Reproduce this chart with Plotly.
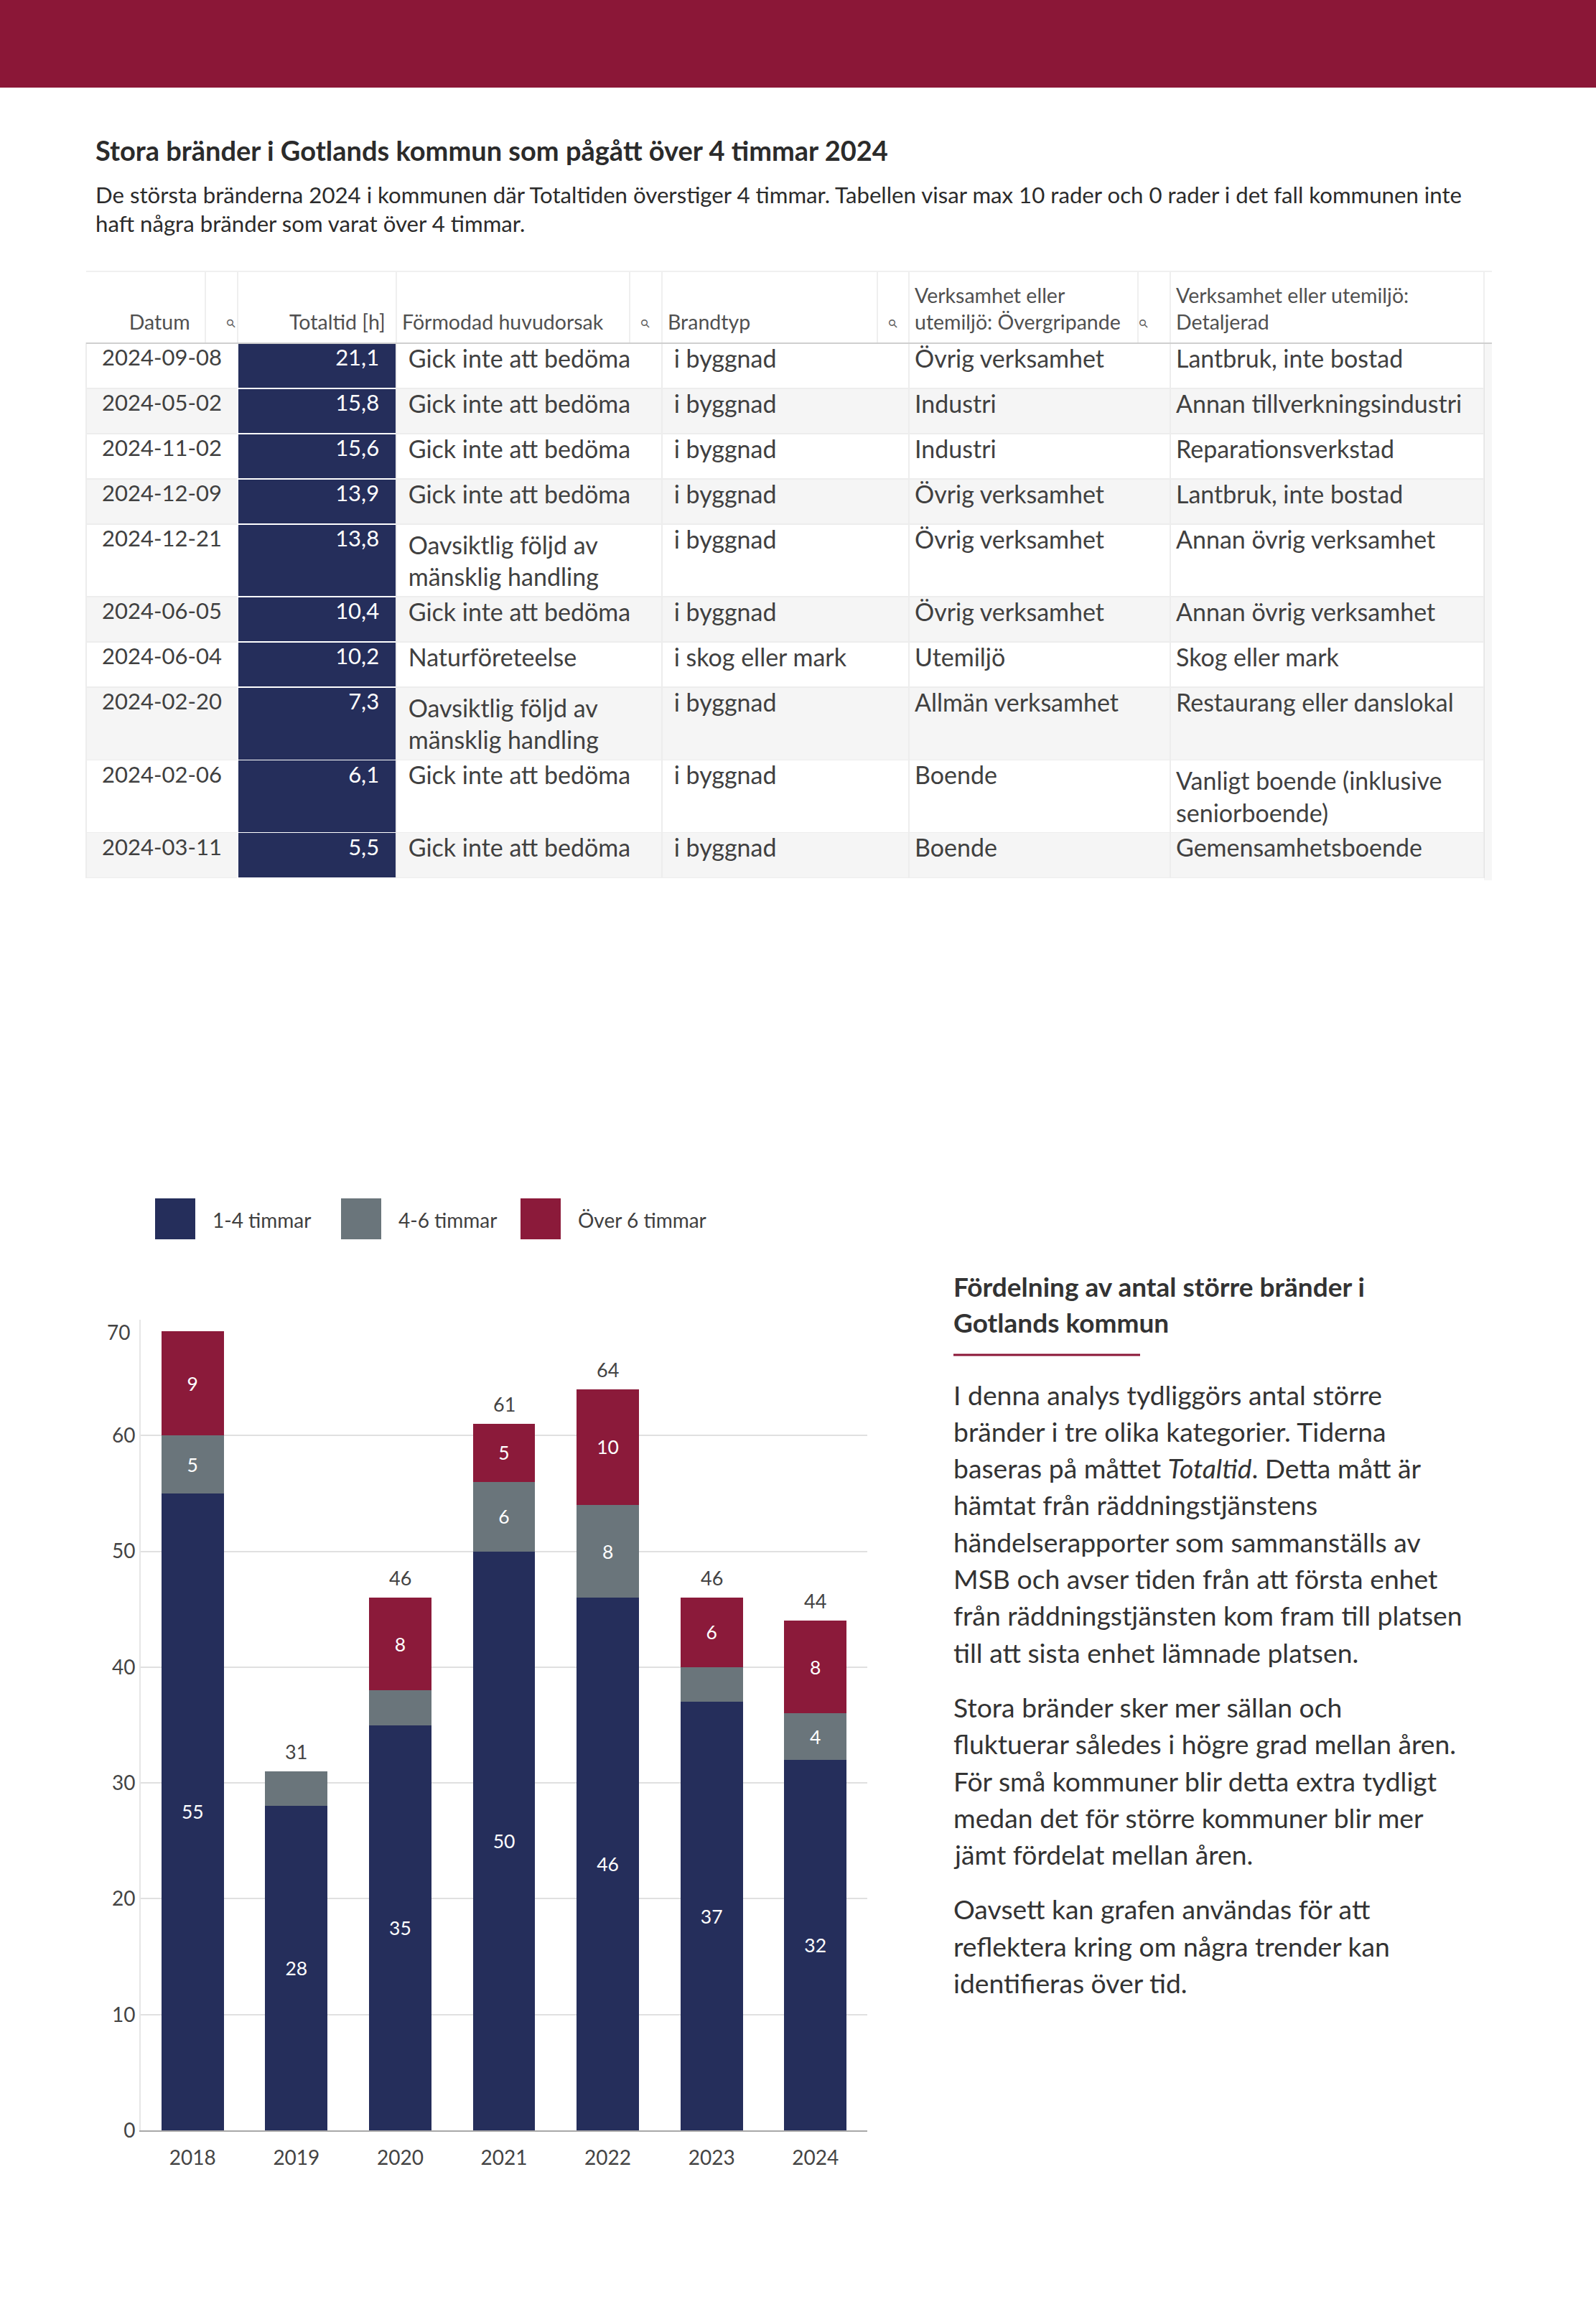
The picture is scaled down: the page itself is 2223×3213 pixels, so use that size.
import textwrap
import plotly.graph_objects as go

W, H = 2223, 3213
FONT = "Lato"
TXT = "#404040"
NAVY = "#252E5B"
GRAY = "#6A757B"
RED = "#8B1A3A"
BANNER = "#8B1737"
NB = "\u00a0"

# ---------------- data ----------------
title = "Stora bränder i Gotlands kommun som pågått över 4 timmar 2024"
subtitle_lines = [
    "De största bränderna 2024 i kommunen där Totaltiden överstiger 4 timmar. Tabellen visar max 10 rader och 0 rader i det fall kommunen inte",
    "haft några bränder som varat över 4 timmar.",
]

col_headers = ["Datum", "Totaltid [h]", "Förmodad huvudorsak", "Brandtyp",
               "Verksamhet eller utemiljö: Övergripande",
               "Verksamhet eller utemiljö: Detaljerad"]
datum = ["2024-09-08", "2024-05-02", "2024-11-02", "2024-12-09", "2024-12-21",
         "2024-06-05", "2024-06-04", "2024-02-20", "2024-02-06", "2024-03-11"]
totaltid = [21.1, 15.8, 15.6, 13.9, 13.8, 10.4, 10.2, 7.3, 6.1, 5.5]
orsak = ["Gick inte att bedöma", "Gick inte att bedöma", "Gick inte att bedöma",
         "Gick inte att bedöma", "Oavsiktlig följd av mänsklig handling",
         "Gick inte att bedöma", "Naturföreteelse",
         "Oavsiktlig följd av mänsklig handling", "Gick inte att bedöma",
         "Gick inte att bedöma"]
brandtyp = ["i byggnad", "i byggnad", "i byggnad", "i byggnad", "i byggnad",
            "i byggnad", "i skog eller mark", "i byggnad", "i byggnad", "i byggnad"]
overgripande = ["Övrig verksamhet", "Industri", "Industri", "Övrig verksamhet",
                "Övrig verksamhet", "Övrig verksamhet", "Utemiljö",
                "Allmän verksamhet", "Boende", "Boende"]
detaljerad = ["Lantbruk, inte bostad", "Annan tillverkningsindustri",
              "Reparationsverkstad", "Lantbruk, inte bostad",
              "Annan övrig verksamhet", "Annan övrig verksamhet",
              "Skog eller mark", "Restaurang eller danslokal",
              "Vanligt boende (inklusive seniorboende)", "Gemensamhetsboende"]

years = ["2018", "2019", "2020", "2021", "2022", "2023", "2024"]
series_names = ["1-4 timmar", "4-6 timmar", "Över 6 timmar"]
v_1_4 = [55, 28, 35, 50, 46, 37, 32]
v_4_6 = [5, 3, 3, 6, 8, 3, 4]
v_over6 = [9, 0, 8, 5, 10, 6, 8]

side_heading = ["Fördelning av antal större bränder i", "Gotlands kommun"]
side_paragraphs = [
    ["I denna analys tydliggörs antal större",
     "bränder i tre olika kategorier. Tiderna",
     "baseras på måttet <i>Totaltid</i>. Detta mått är",
     "hämtat från räddningstjänstens",
     "händelserapporter som sammanställs av",
     "MSB och avser tiden från att första enhet",
     "från räddningstjänsten kom fram till platsen",
     "till att sista enhet lämnade platsen."],
    ["Stora bränder sker mer sällan och",
     "fluktuerar således i högre grad mellan åren.",
     "För små kommuner blir detta extra tydligt",
     "medan det för större kommuner blir mer",
     "jämt fördelat mellan åren."],
    ["Oavsett kan grafen användas för att",
     "reflektera kring om några trender kan",
     "identifieras över tid."],
]


# ---------------- helpers ----------------
def px(x):
    return x / W


def py(y):
    return 1 - y / H


def wrap(s, width, prefix=""):
    return "<br>".join(prefix + ln for ln in textwrap.wrap(s, width))


def header_text(s, width, pad_lines=2):
    lines = textwrap.wrap(s, width)
    lines = [NB] * (pad_lines - len(lines)) + lines
    return "<br>".join(lines)


fig = go.Figure()

# ---------------- table ----------------
n = len(datum)
stripe = ["#FFFFFF" if i % 2 == 0 else "#F5F5F5" for i in range(n)]
LINE = "#EDEDED"

hdr_widths = [20, 20, 20, 20, 22, 26]
hdr = [header_text(h, w) for h, w in zip(col_headers, hdr_widths)]
hdr[0] = hdr[0] + NB * 8
hdr[1] = hdr[1] + NB * 1

cells = [
    datum,
    [f"{v:.1f}".replace(".", ",") + NB * 2 for v in totaltid],
    [wrap(s, 20, NB) for s in orsak],
    [wrap(s, 30, NB) for s in brandtyp],
    [wrap(s, 30) for s in overgripande],
    [wrap(s, 28) for s in detaljerad],
]

fig.add_trace(go.Table(
    domain=dict(x=[px(120), px(2067)], y=[py(1280), py(386)]),
    columnwidth=[211, 221, 370, 344, 364, 437],
    header=dict(
        values=hdr,
        align=["right", "right", "left", "left", "left", "left"],
        fill_color="white",
        line=dict(color="white", width=1),
        font=dict(family=FONT, size=28.5, color="#505050"),
        height=92,
    ),
    cells=dict(
        values=cells,
        align=["center", "right", "left", "left", "left", "left"],
        fill_color=[stripe, [NAVY] * n, stripe, stripe, stripe, stripe],
        line=dict(color=[[LINE] * n, ["white"] * n, [LINE] * n, [LINE] * n,
                         [LINE] * n, [LINE] * n], width=1.5),
        font=dict(family=FONT, size=[31, 31, 34, 34, 34, 34],
                  color=[TXT, "white", TXT, TXT, TXT, TXT]),
        height=63,
    ),
))

# ---------------- stacked bars ----------------
def seg_label(v):
    return str(v) if v >= 4 else ""


for vals, name, col in zip([v_1_4, v_4_6, v_over6], series_names, [NAVY, GRAY, RED]):
    fig.add_trace(go.Bar(
        x=years, y=vals, name=name, marker=dict(color=col, line=dict(width=0)),
        text=[seg_label(v) for v in vals], textposition="inside",
        insidetextanchor="middle", textangle=0,
        textfont=dict(family=FONT, size=26.5, color="white"),
        showlegend=False, hoverinfo="skip",
    ))

Y_MAX = 70
Y_STEP = 10
tickvals = list(range(0, Y_MAX + 1, Y_STEP))
ticktext = [str(v) if v < Y_MAX else "" for v in tickvals]

totals = [a + b + c for a, b, c in zip(v_1_4, v_4_6, v_over6)]
annotations = []
for i, t in enumerate(totals):
    if t + 3 <= Y_MAX:
        annotations.append(dict(x=i, y=t, xref="x", yref="y", text=str(t),
                                showarrow=False, yanchor="bottom", yshift=9,
                                font=dict(family=FONT, size=27, color="#444444")))
# top tick label drawn slightly inside the plot (as in the original)
annotations.append(dict(xref="paper", yref="y", x=px(183), y=Y_MAX, yshift=-17,
                        text=str(Y_MAX), showarrow=False, xanchor="right", yanchor="middle",
                        font=dict(family=FONT, size=28, color="#444444")))

# ---------------- legend (custom) ----------------
shapes = []
LEG_X = [216, 475, 725]
for lx, name, col in zip(LEG_X, series_names, [NAVY, GRAY, RED]):
    shapes.append(dict(type="rect", xref="paper", yref="paper",
                       x0=px(lx), x1=px(lx + 56), y0=py(1726), y1=py(1669),
                       fillcolor=col, line=dict(width=0)))
    annotations.append(dict(xref="paper", yref="paper", x=px(lx + 78), y=py(1699),
                            text=name, showarrow=False, xanchor="left", yanchor="middle",
                            font=dict(family=FONT, size=28, color=TXT)))

# ---------------- banner, title ----------------
shapes.append(dict(type="rect", xref="paper", yref="paper", x0=0, x1=1,
                   y0=py(122), y1=1, fillcolor=BANNER, line=dict(width=0), layer="below"))
annotations.append(dict(xref="paper", yref="paper", x=px(131), y=py(209), text="<b>" + title + "</b>",
                        showarrow=False, xanchor="left", yanchor="middle",
                        font=dict(family=FONT, size=38, color="#2B2B2B")))
for i, ln in enumerate(subtitle_lines):
    annotations.append(dict(xref="paper", yref="paper", x=px(131), y=py(271 + 40 * i), text=ln,
                            showarrow=False, xanchor="left", yanchor="middle",
                            font=dict(family=FONT, size=31.2, color="#2B2B2B")))

# table header decorations: dividers and search icons
for xd in [286, 331, 552, 877, 922, 1222, 1266, 1585, 1630, 2067]:
    shapes.append(dict(type="line", xref="paper", yref="paper", x0=px(xd), x1=px(xd),
                       y0=py(478), y1=py(378), line=dict(color="#EAEAEA", width=1.5)))
for xi in [308, 899, 1244, 1607]:
    annotations.append(dict(xref="paper", yref="paper", x=px(xi), y=py(437), text="⚲",
                            textangle=-45, showarrow=False,
                            font=dict(family="DejaVu Sans", size=16, color="#606060")))
shapes.append(dict(type="line", xref="paper", yref="paper", x0=px(120), x1=px(2078),
                   y0=py(478), y1=py(478), line=dict(color="#CFCFCF", width=2)))
shapes.append(dict(type="line", xref="paper", yref="paper", x0=px(120), x1=px(2078),
                   y0=py(378), y1=py(378), line=dict(color="#F0F0F0", width=2)))
# faint scroll-shadow strip at the right edge of the table body
shapes.append(dict(type="rect", xref="paper", yref="paper", x0=px(2067), x1=px(2078),
                   y0=py(1226), y1=py(479), fillcolor="rgba(0,0,0,0.035)", line=dict(width=0)))

# ---------------- side text ----------------
for i, ln in enumerate(side_heading):
    annotations.append(dict(xref="paper", yref="paper", x=px(1326), y=py(1791 + 51 * i),
                            text="<b>" + ln + "</b>", showarrow=False, xanchor="left",
                            yanchor="middle", font=dict(family=FONT, size=37, color="#333333")))
shapes.append(dict(type="line", xref="paper", yref="paper", x0=px(1328), x1=px(1588),
                   y0=py(1887), y1=py(1887), line=dict(color=BANNER, width=3)))
y_cur = 1942
for para in side_paragraphs:
    for ln in para:
        annotations.append(dict(xref="paper", yref="paper", x=px(1326), y=py(y_cur),
                                text=ln, showarrow=False, xanchor="left", yanchor="middle",
                                font=dict(family=FONT, size=37.3, color="#333333")))
        y_cur += 51.3
    y_cur += 25

fig.update_layout(
    width=W, height=H, margin=dict(l=0, r=0, t=0, b=0, pad=0, autoexpand=False),
    paper_bgcolor="white", plot_bgcolor="white",
    barmode="stack", bargap=0.4, showlegend=False,
    font=dict(family=FONT, color=TXT),
    xaxis=dict(type="category", domain=[px(196), px(1208)], anchor="y",
               range=[-0.5, len(years) - 0.5], showline=True,
               linecolor="#A8A8A8", linewidth=2, ticks="", showgrid=False,
               tickfont=dict(family=FONT, size=28, color="#444444"),
               ticklabelstandoff=12, fixedrange=True, automargin=False),
    yaxis=dict(domain=[py(2967), py(1838)], anchor="x", range=[0, Y_MAX],
               tickvals=tickvals, ticktext=ticktext,
               showgrid=True, gridcolor="#E0E0E0", gridwidth=2, zeroline=False,
               showline=True, linecolor="#E6E6E6", linewidth=2, ticks="",
               tickfont=dict(family=FONT, size=28, color="#444444"),
               ticklabelstandoff=0, fixedrange=True, automargin=False),
    shapes=shapes, annotations=annotations,
)

fig.write_html("out.html", config={"displayModeBar": False},
               post_script="document.body.style.margin='0';")
